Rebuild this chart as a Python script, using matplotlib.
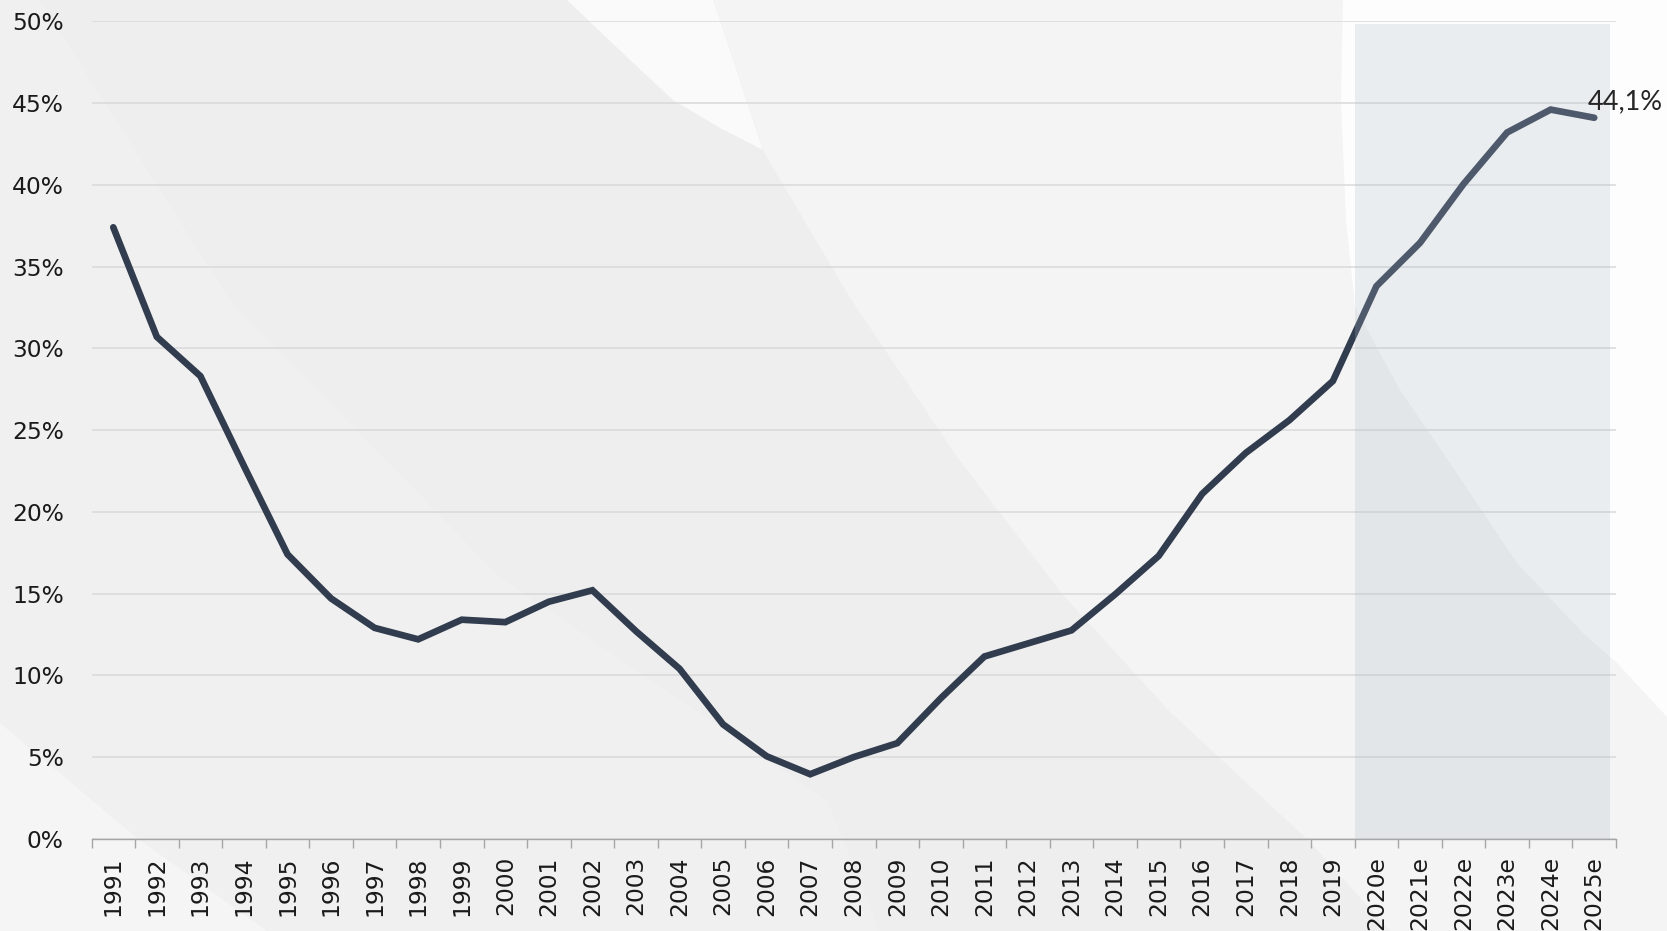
import matplotlib
matplotlib.use("Agg")
import matplotlib.pyplot as plt
from matplotlib.patches import Polygon

# ---------------- data ----------------
years = ["1991", "1992", "1993", "1994", "1995", "1996", "1997", "1998", "1999",
         "2000", "2001", "2002", "2003", "2004", "2005", "2006", "2007", "2008",
         "2009", "2010", "2011", "2012", "2013", "2014", "2015", "2016", "2017",
         "2018", "2019", "2020e", "2021e", "2022e", "2023e", "2024e", "2025e"]
values = [37.4, 30.7, 28.3, 22.8, 17.4, 14.7, 12.9, 12.2, 13.4,
          13.25, 14.5, 15.2, 12.7, 10.4, 7.0, 5.05, 3.95, 5.0,
          5.85, 8.6, 11.15, 11.95, 12.75, 14.95, 17.3, 21.1, 23.6,
          25.6, 28.0, 33.8, 36.45, 40.05, 43.2, 44.6, 44.1]
forecast_start = "2020e"
end_label = "44,1%"
yticks = [0, 5, 10, 15, 20, 25, 30, 35, 40, 45, 50]

W, H = 1667, 931
fig = plt.figure(figsize=(W / 100, H / 100), dpi=100)
fig.patch.set_facecolor("#eeeeee")


def px(pts):
    return [(x / W, 1 - y / H) for x, y in pts]


def bg(pts, color):
    fig.patches.append(Polygon(px(pts), closed=True, transform=fig.transFigure,
                               facecolor=color, edgecolor="none", zorder=-10))


# decorative background shapes
bg([(0, 0), (40, 0), (230, 300), (500, 577), (827, 800), (880, 931), (0, 931)], "#f0f0f0")
bg([(0, 723), (137, 838), (267, 931), (0, 931)], "#f5f5f5")
bg([(713, 0), (738, 75), (765, 154), (850, 298), (957, 457), (1063, 595),
    (1170, 712), (1308, 840), (1390, 931), (1667, 931), (1667, 0)], "#f4f4f4")
bg([(1343, 0), (1341, 100), (1346, 220), (1355, 307), (1400, 390), (1450, 463),
    (1517, 563), (1583, 633), (1617, 663), (1667, 717), (1667, 0)], "#fdfdfd")
bg([(567, 0), (590, 22), (630, 60), (673, 100), (720, 128), (763, 150),
    (738, 75), (713, 0)], "#fafafa")

ax = fig.add_axes([91.5 / W, 1 - 838.8 / H, (1616 - 91.5) / W, (838.8 - 21.3) / H])
ax.set_facecolor("none")

x = list(range(len(years)))
ax.plot(x, values, color="#323c4f", lw=4.8, solid_capstyle="round",
        solid_joinstyle="miter", zorder=3)

# forecast shading
i0 = years.index(forecast_start)
ax.axvspan(i0 - 0.5, len(years) - 1 + 0.37, ymin=0, ymax=0.997,
           facecolor="#adbac9", alpha=0.235, edgecolor="none", zorder=4)

ax.annotate(end_label, (x[-1], values[-1]), xytext=(-5, 6),
            textcoords="offset points", ha="left", va="baseline",
            fontsize=19.5, family="Lato", color="#262626", zorder=5)

ax.set_xlim(-0.5, len(years) - 0.5)
ax.set_ylim(0, 50)
ax.set_yticks(yticks)
ax.set_yticklabels([f"{v}%" for v in yticks])
ax.yaxis.grid(True, color="#d9d9d9", lw=1.1, zorder=0)
ax.set_axisbelow(True)

ax.set_xticks(x)
ax.set_xticklabels(years, rotation=90, ha="center", va="top")
ax.set_xticks([i - 0.5 for i in range(len(years) + 1)], minor=True)
ax.tick_params(axis="x", which="major", length=0, pad=12.5, labelsize=16.8,
               labelcolor="#1a1a1a")
ax.tick_params(axis="x", which="minor", length=6.5, width=1.0, color="#a6a6a6")
ax.tick_params(axis="y", length=0, pad=20, labelsize=16.8, labelcolor="#1a1a1a")

for s in ["top", "right", "left"]:
    ax.spines[s].set_visible(False)
ax.spines["bottom"].set_color("#a6a6a6")
ax.spines["bottom"].set_linewidth(1.0)

fig.savefig("out.png", dpi=100, facecolor=fig.get_facecolor())
